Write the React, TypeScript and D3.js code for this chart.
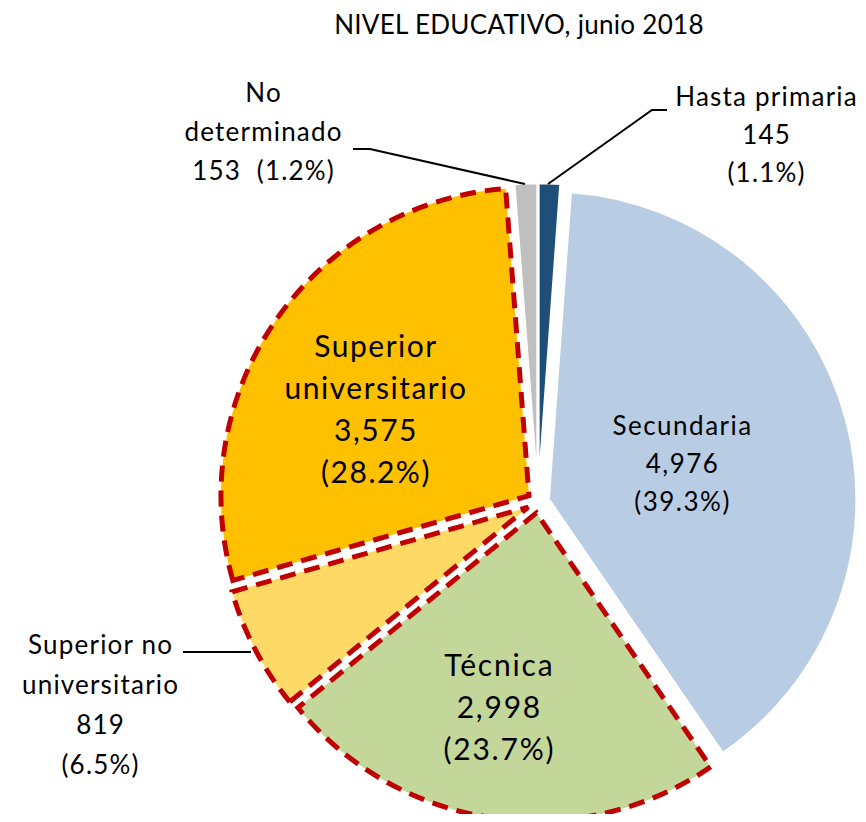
import React from "react";
import * as d3 from "d3";

// data
const categories = [
  "Hasta primaria",
  "Secundaria",
  "Técnica",
  "Superior no universitario",
  "Superior universitario",
  "No determinado",
];
const values = [145, 4976, 2998, 819, 3575, 153];
const labelLines = [
  ["Hasta primaria", "145", "(1.1%)"],
  ["Secundaria", "4,976", "(39.3%)"],
  ["Técnica", "2,998", "(23.7%)"],
  ["Superior no", "universitario", "819", "(6.5%)"],
  ["Superior", "universitario", "3,575", "(28.2%)"],
  ["No", "determinado", "153  (1.2%)"],
];
const colors = ["#1F4E79", "#B8CCE4", "#C4D79B", "#FFD966", "#FFC000", "#BFBFBF"];
const dashed = [false, false, true, true, true, false];

const width = 866;
const height = 822;
const cx = 538;
const cy = 502;
const radius = 308;
const explode = 11;
const font = "Lato, 'Open Sans', sans-serif";

// label layout: inside labels by radius + angle nudge, outside by fixed spots
const inside: Record<number, { r: number; da: number; size: number; lh: number; ls: number }> = {
  1: { r: 149, da: 0, size: 26, lh: 38, ls: 1.5 },
  2: { r: 208, da: 2.8, size: 30, lh: 42, ls: 1.8 },
  4: { r: 188, da: -4.8, size: 30, lh: 42, ls: 1.5 },
};
const outside: Record<number, { x: number; y: number; lh: number; line: [number, number][] }> = {
  0: { x: 766, y: 96, lh: 38, line: [[667, 110], [652, 110], [548, 184]] },
  3: { x: 100, y: 644, lh: 40, line: [[183, 652], [251, 652]] },
  5: { x: 263, y: 92, lh: 39, line: [[353, 149], [370, 149], [525, 184]] },
};

export default function App() {
  const pie = d3
    .pie<number>()
    .sort(null)
    .value((d) => d)
    .startAngle(0)
    .endAngle(2 * Math.PI);
  const arcs = pie(values);
  const arc = d3.arc<d3.PieArcDatum<number>>().innerRadius(0).outerRadius(radius);

  return (
    <svg width={width} height={height} style={{ display: "block", margin: -8 }}>
      <text
        x={519}
        y={34}
        textAnchor="middle"
        fontFamily={font}
        fontSize={26}
        letterSpacing={0.3}
        fill="#000"
      >
        NIVEL EDUCATIVO, junio 2018
      </text>
      {arcs.map((a, i) => {
        const mid = (a.startAngle + a.endAngle) / 2;
        const dx = Math.sin(mid) * explode;
        const dy = -Math.cos(mid) * explode;
        return (
          <g key={categories[i]} transform={`translate(${cx + dx},${cy + dy})`}>
            <path
              d={arc(a) || ""}
              fill={colors[i]}
              stroke={dashed[i] ? "#C00000" : "#fff"}
              strokeWidth={dashed[i] ? 5 : 2.5}
              strokeDasharray={dashed[i] ? "16 9" : undefined}
              strokeLinejoin="miter"
            />
          </g>
        );
      })}
      {arcs.map((a, i) => {
        const lines = labelLines[i];
        if (inside[i]) {
          const o = inside[i];
          const ang = (a.startAngle + a.endAngle) / 2 + (o.da * Math.PI) / 180;
          const x = cx + Math.sin(ang) * o.r + o.ls / 2;
          const y = cy - Math.cos(ang) * o.r;
          const y0 = y - ((lines.length - 1) * o.lh) / 2;
          return (
            <text
              key={"l" + i}
              textAnchor="middle"
              fontFamily={font}
              fontSize={o.size}
              letterSpacing={o.ls}
              dominantBaseline="central"
              fill="#000"
            >
              {lines.map((t, k) => (
                <tspan key={k} x={x} y={y0 + k * o.lh}>
                  {t}
                </tspan>
              ))}
            </text>
          );
        }
        const o = outside[i];
        return (
          <g key={"l" + i}>
            <polyline
              points={o.line.map((p) => p.join(",")).join(" ")}
              fill="none"
              stroke="#000"
              strokeWidth={2}
            />
            <text
              textAnchor="middle"
              fontFamily={font}
              fontSize={26}
              letterSpacing={1.2}
              dominantBaseline="central"
              fill="#000"
              style={{ whiteSpace: "pre" }}
            >
              {lines.map((t, k) => (
                <tspan key={k} x={o.x + 0.6} y={o.y + k * o.lh}>
                  {t}
                </tspan>
              ))}
            </text>
          </g>
        );
      })}
    </svg>
  );
}
